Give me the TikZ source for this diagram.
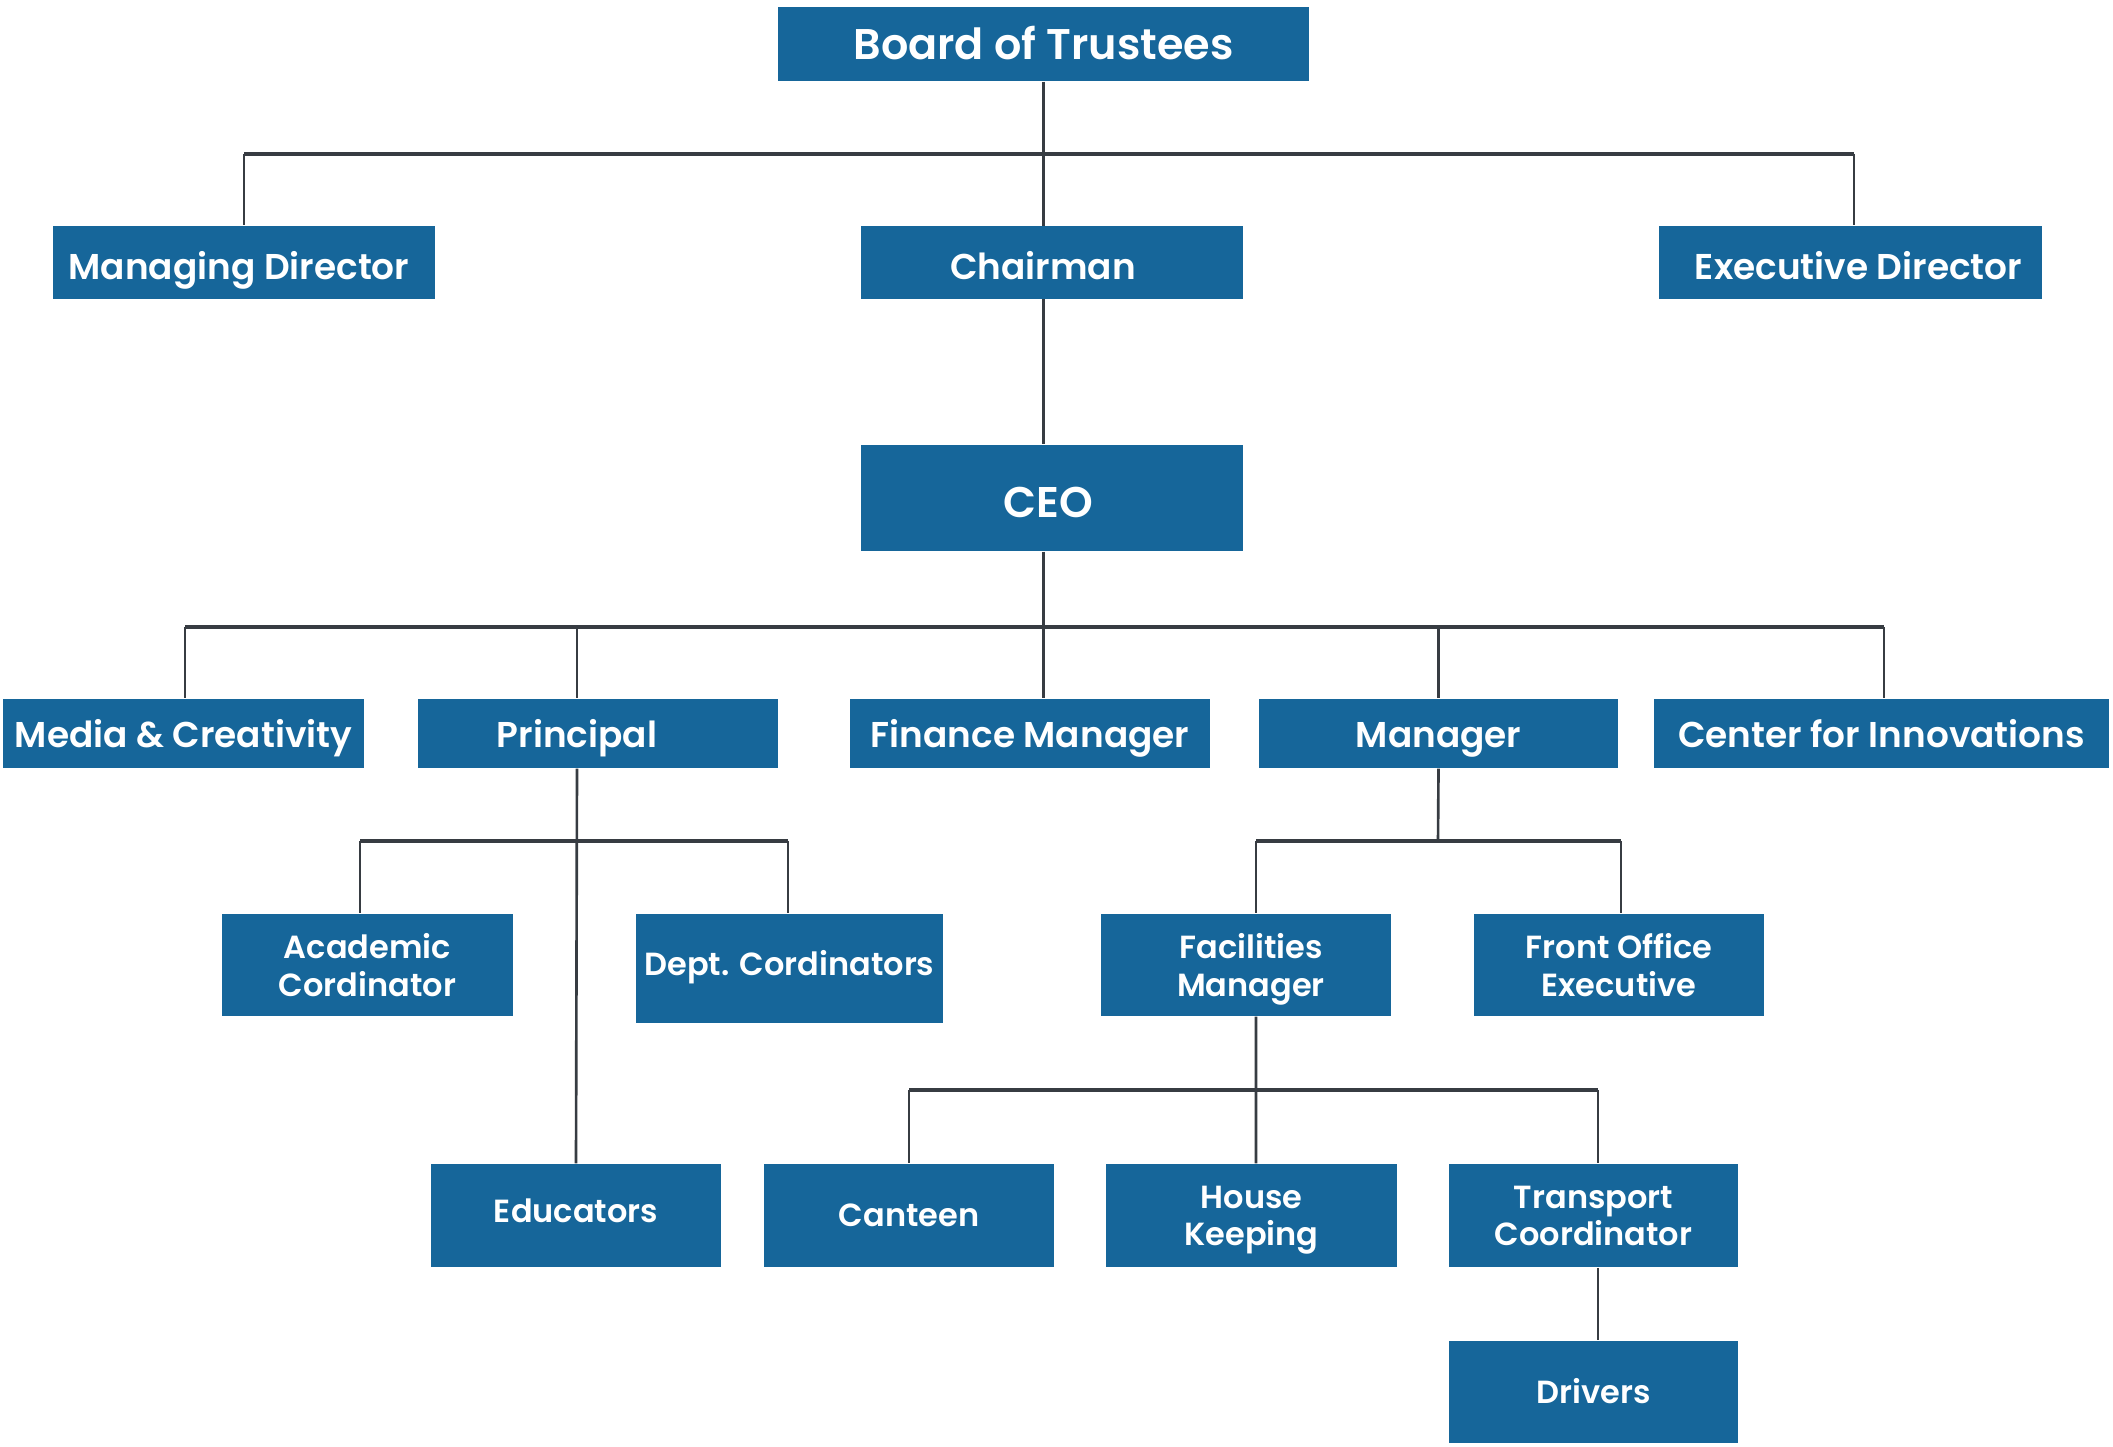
\documentclass[tikz,border=0pt]{standalone}
\usepackage{fontspec}
\setmainfont{Poppins}[UprightFont={* SemiBold}]
\usetikzlibrary{backgrounds}
\definecolor{boxblue}{RGB}{22,102,154}
\definecolor{linegray}{RGB}{55,60,66}
\tikzset{
  box/.style={fill=boxblue, text=white, inner sep=0pt, align=center},
  tboard/.style={text height=1.1em, text depth=0.21em},
  tceo/.style={text height=1.3em, text depth=0.21em},
  tlvl1/.style={text height=1.15em, text depth=0.2em},
  tlvl3/.style={text height=1.0em, text depth=0.2em},
  tsmall/.style={text height=0.65em, text depth=0.25em},
  tlow/.style={text height=0.9em, text depth=0.25em},
  two/.style={text depth=0pt},
  big/.style={font=\fontsize{12.2}{14}\selectfont},
  mid/.style={font=\fontsize{10.2}{12}\selectfont},
  small/.style={font=\fontsize{9.1}{10.6}\selectfont},
  conn/.style={draw=linegray, line width=0.75pt},
  bar/.style={draw=linegray, line width=1.1pt}
}
\begin{document}
\begin{tikzpicture}[x=0.01cm, y=-0.01cm]
\useasboundingbox (0,0) rectangle (2113,1446);
% level 0
\node[box,tboard,big,minimum width=5.31cm,minimum height=0.74cm] (board) at (1043.5,44) {Board of Trustees};
% level 1
\node[box,tlvl1,mid,minimum width=3.82cm,minimum height=0.73cm] (md) at (244,262.5) {\hspace*{-0.1cm}Managing Director};
\node[box,tlvl1,mid,minimum width=3.82cm,minimum height=0.73cm] (chair) at (1052,262.5) {\hspace*{-0.18cm}Chairman};
\node[box,tlvl1,mid,minimum width=3.83cm,minimum height=0.73cm] (ed) at (1850.5,262.5) {\hspace*{0.16cm}Executive Director};
% CEO
\node[box,tceo,big,minimum width=3.82cm,minimum height=1.06cm] (ceo) at (1052,498) {\hspace*{-0.08cm}CEO};
% level 3
\node[box,tlvl3,mid,minimum width=3.61cm,minimum height=0.69cm] (media) at (183.5,733.5) {Media \& Creativity};
\node[box,tlvl3,mid,minimum width=3.60cm,minimum height=0.69cm] (principal) at (598,733.5) {\hspace*{-0.42cm}Principal};
\node[box,tlvl3,mid,minimum width=3.60cm,minimum height=0.69cm] (finance) at (1030,733.5) {Finance Manager};
\node[box,tlvl3,mid,minimum width=3.59cm,minimum height=0.69cm] (manager) at (1438.5,733.5) {Manager};
\node[box,tlvl3,mid,minimum width=4.55cm,minimum height=0.69cm] (innov) at (1881.5,733.5) {Center for Innovations};
% level 4
\node[box,two,small,minimum width=2.91cm,minimum height=1.02cm] (acad) at (367.5,965) {Academic\\Cordinator};
\node[box,tsmall,small,minimum width=3.07cm,minimum height=1.09cm] (dept) at (789.5,968.5) {Dept. Cordinators};
\node[box,two,small,minimum width=2.90cm,minimum height=1.02cm] (fm) at (1246,965) {\hspace*{0.1cm}Facilities\\\hspace*{0.1cm}Manager};
\node[box,two,small,minimum width=2.90cm,minimum height=1.02cm] (foe) at (1619,965) {Front Office\\Executive};
% level 5
\node[box,tsmall,small,minimum width=2.90cm,minimum height=1.03cm] (edu) at (576,1215.5) {Educators};
\node[box,tlow,small,minimum width=2.90cm,minimum height=1.03cm] (canteen) at (909,1215.5) {Canteen};
\node[box,two,small,minimum width=2.91cm,minimum height=1.03cm] (hk) at (1251.5,1215.5) {House\\Keeping};
\node[box,two,small,minimum width=2.89cm,minimum height=1.03cm] (tc) at (1593.5,1215.5) {Transport\\Coordinator};
\node[box,tlow,small,minimum width=2.89cm,minimum height=1.02cm] (drivers) at (1593.5,1392) {Drivers};
% bar coordinates
\coordinate (b1) at (1043.5,154);
\coordinate (b2) at (1043.5,627);
\coordinate (b3) at (577,841);
\coordinate (b4) at (1438,841);
\coordinate (b5) at (1256,1090);
\begin{scope}[on background layer]
  % trunk
  \draw[conn] (board.south) -- (board.south |- ceo.north);
  \draw[conn] (board.south |- ceo.south) -- (board.south |- finance.north);
  % level 1 bar
  \draw[bar] (md.north |- b1) -- ([xshift=0.035cm]ed.north |- b1);
  \draw[conn] (md.north |- b1) -- (md.north);
  \draw[conn] ([xshift=0.035cm]ed.north |- b1) -- ([xshift=0.035cm]ed.north);
  % CEO bar
  \draw[bar] ([xshift=0.015cm]media.north |- b2) -- ([xshift=0.025cm]innov.north |- b2);
  \draw[conn] ([xshift=0.015cm]media.north |- b2) -- ([xshift=0.015cm]media.north);
  \draw[conn] ([xshift=-0.21cm]principal.north |- b2) -- ([xshift=-0.21cm]principal.north);
  \draw[conn] (manager.north |- b2) -- (manager.north);
  \draw[conn] ([xshift=0.025cm]innov.north |- b2) -- ([xshift=0.025cm]innov.north);
  % principal
  \draw[conn] ([xshift=-0.21cm]principal.south) -- (edu.north);
  \draw[bar] ([xshift=-0.075cm]acad.north |- b3) -- ([xshift=-0.015cm]dept.north |- b3);
  \draw[conn] ([xshift=-0.075cm]acad.north |- b3) -- ([xshift=-0.075cm]acad.north);
  \draw[conn] ([xshift=-0.015cm]dept.north |- b3) -- ([xshift=-0.015cm]dept.north);
  % manager
  \draw[conn] (manager.south) -- (b4);
  \draw[bar] ([xshift=0.1cm]fm.north |- b4) -- ([xshift=0.02cm]foe.north |- b4);
  \draw[conn] ([xshift=0.1cm]fm.north |- b4) -- ([xshift=0.1cm]fm.north);
  \draw[conn] ([xshift=0.02cm]foe.north |- b4) -- ([xshift=0.02cm]foe.north);
  % facilities
  \draw[conn] ([xshift=0.1cm]fm.south) -- ([xshift=0.045cm]hk.north);
  \draw[bar] (canteen.north |- b5) -- ([xshift=0.045cm]tc.north |- b5);
  \draw[conn] (canteen.north |- b5) -- (canteen.north);
  \draw[conn] ([xshift=0.045cm]tc.north |- b5) -- ([xshift=0.045cm]tc.north);
  \draw[conn] ([xshift=0.045cm]tc.south) -- ([xshift=0.045cm]drivers.north);
\end{scope}
\end{tikzpicture}
\end{document}
